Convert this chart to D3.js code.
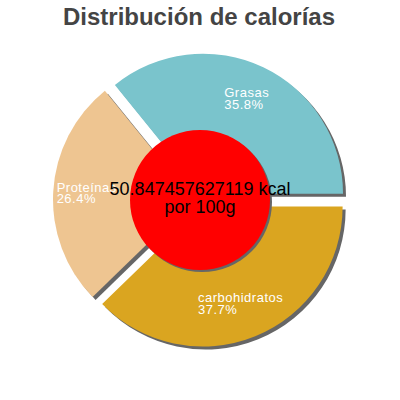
<!DOCTYPE html>
<html>
<head>
<meta charset="utf-8">
<script src="https://cdn.jsdelivr.net/npm/d3@7"></script>
<style>
  html, body { margin: 0; padding: 0; background: #fff; }
  svg { display: block; }
</style>
</head>
<body>
<script>
const title = "Distribución de calorías";
const categories = ["Grasas", "Proteínas", "carbohidratos"];
const values = [35.8, 26.4, 37.7];
const colors = ["#7ac4cc", "#eec591", "#daa520"];
const centerLines = ["50.847457627119 kcal", "por 100g"];

const W = 400, H = 400;
const cx = 200, cy = 200;
const R = 140, holeR = 70, explode = 7;
const shadowDx = 3, shadowDy = 3;

const svg = d3.select("body").append("svg").attr("width", W).attr("height", H);

svg.append("text")
  .attr("x", 199).attr("y", 25)
  .attr("text-anchor", "middle")
  .attr("font-family", "Liberation Sans, Arial, sans-serif")
  .attr("font-weight", "bold")
  .attr("font-size", 24)
  .attr("fill", "#444")
  .text(title);

const data = categories.map((c, i) => ({ name: c, value: values[i], color: colors[i] }));
const total = d3.sum(values);

// counterclockwise from 3 o'clock
const pie = d3.pie().sort(null).value(d => d.value)
  .startAngle(Math.PI / 2).endAngle(Math.PI / 2 - 2 * Math.PI);
const arcs = pie(data);
const arc = d3.arc().innerRadius(0).outerRadius(R);
const labelArc = d3.arc().innerRadius(holeR).outerRadius(R);

function offset(a) {
  const mid = (a.startAngle + a.endAngle) / 2;
  return [Math.sin(mid) * explode, -Math.cos(mid) * explode];
}

const g = svg.append("g").attr("transform", `translate(${cx},${cy})`);

// shadows
g.selectAll("path.shadow").data(arcs).join("path")
  .attr("class", "shadow")
  .attr("d", arc)
  .attr("fill", "#666")
  .attr("transform", d => { const o = offset(d); return `translate(${o[0] + shadowDx},${o[1] + shadowDy})`; });

// slices
g.selectAll("path.slice").data(arcs).join("path")
  .attr("class", "slice")
  .attr("d", arc)
  .attr("fill", d => d.data.color)
  .attr("transform", d => { const o = offset(d); return `translate(${o[0]},${o[1]})`; });

// labels
arcs.forEach(d => {
  const o = offset(d);
  const c = labelArc.centroid(d);
  const x = c[0] + o[0], y = c[1] + o[1];
  const t = g.append("text")
    .attr("font-family", "Liberation Sans, Arial, sans-serif")
    .attr("font-size", 13)
    .attr("letter-spacing", "0.5px")
    .attr("fill", "#fff");
  const l1 = t.append("tspan").text(d.data.name);
  const w = l1.node().getComputedTextLength();
  const x0 = x - w / 2 - 1.5;
  l1.attr("x", x0).attr("y", y - 1.5);
  t.append("tspan").attr("x", x0).attr("y", y + 10)
    .text((d.data.value / total * 100).toFixed(1) + "%");
});

// center circle
g.append("circle").attr("cx", 2).attr("cy", 2).attr("r", holeR).attr("fill", "#666");
g.append("circle").attr("cx", 0).attr("cy", 0).attr("r", holeR).attr("fill", "#ff0000");

const ct = g.append("text")
  .attr("text-anchor", "middle")
  .attr("font-family", "Liberation Sans, Arial, sans-serif")
  .attr("font-size", 18)
  .attr("fill", "#000");
centerLines.forEach((s, i) => {
  ct.append("tspan").attr("x", 0).attr("y", -5 + i * 17.5).text(s);
});
</script>
</body>
</html>
